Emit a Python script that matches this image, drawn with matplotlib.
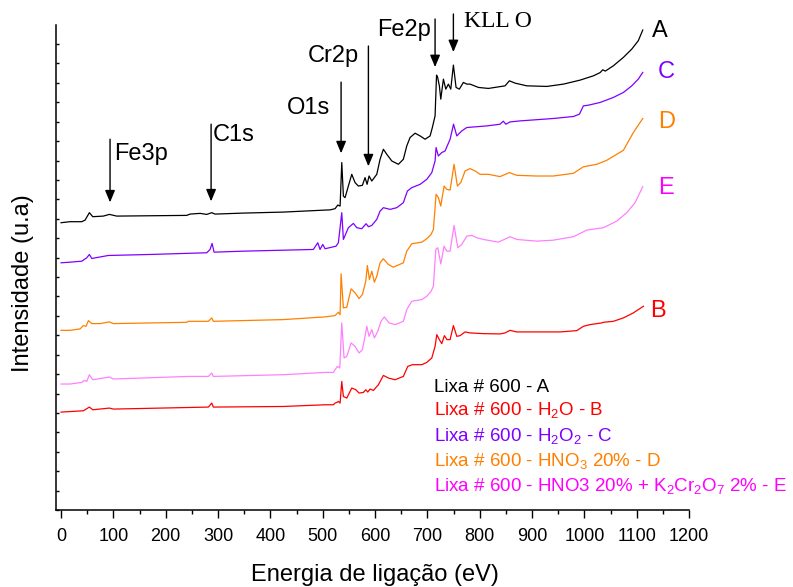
import matplotlib
matplotlib.use("Agg")
import matplotlib.pyplot as plt
from matplotlib.ticker import MultipleLocator

plt.rcParams["font.family"] = ["Liberation Sans", "DejaVu Sans"]
plt.rcParams["mathtext.fontset"] = "custom"
plt.rcParams["mathtext.rm"] = "Liberation Sans"
plt.rcParams["mathtext.default"] = "regular"

# XPS survey spectra: (binding energy eV, intensity a.u.)
spectrum_a = [
    (0, 286.7), (17.2, 287.7), (39.6, 287.7), (45.9, 289.3), (54.1, 296.7),
    (60.6, 292.7), (80.8, 293.3), (92.3, 295), (106.4, 293.3), (240.2, 294),
    (246.5, 295.3), (265.6, 296), (278.4, 295), (288.0, 296.7), (294.3, 295.3),
    (348.4, 296.3), (424.8, 297.3), (504.5, 299.3), (514.1, 299.5), (523.6, 300.7),
    (528.8, 304.3), (533.2, 303.3), (536.4, 346.7), (539.5, 313.3), (542.7, 311.7),
    (549.0, 323.3), (555.5, 335), (561.8, 326.7), (568.1, 323.3), (575.8, 324),
    (580.9, 331.7), (584.8, 325), (588.6, 333.3), (593.8, 328.3), (603.3, 335),
    (609.6, 350), (615.9, 360), (622.4, 355), (632.0, 348.3), (644.6, 345),
    (654.1, 350), (660.6, 363.3), (666.9, 371.7), (676.5, 376), (686.1, 373.3),
    (695.6, 370), (705.2, 373.3), (709.5, 381.7), (714.7, 393.3), (717.5, 434),
    (719.5, 432), (722.9, 423.3), (725.6, 410), (730.6, 430), (735.2, 420),
    (740.1, 425), (744.7, 420), (749.7, 444), (754.8, 421.7), (761.1, 420),
    (768.8, 426.7), (775.3, 425), (781.6, 425), (797.5, 421.7), (816.6, 420.7),
    (848.5, 423.3), (856.7, 428.3), (867.6, 426), (889.9, 423.3), (928.2, 422.7),
    (959.9, 425), (991.8, 429), (1017.3, 433.3), (1030.0, 436.5), (1035.2, 439.3),
    (1040.0, 438), (1055.4, 443.3), (1074.6, 451.7), (1090.6, 460), (1103.0, 468.3),
    (1111.6, 479),
]

spectrum_b = [
    (0, 97.7), (42.6, 99), (54.1, 102.7), (60.6, 100), (92.3, 101.7),
    (99.9, 100.7), (281.5, 102.7), (288.0, 106.7), (291.0, 102.7), (424.8, 103.3),
    (504.5, 105), (520.4, 105), (523.6, 106.7), (526.9, 107.3), (529.9, 108.3),
    (533.2, 106.7), (536.4, 128.3), (539.5, 113.3), (546.0, 111.7), (555.5, 121.7),
    (563.2, 120), (569.5, 116.7), (577.7, 117.3), (582.3, 120), (586.1, 117.7),
    (590.5, 120.7), (596.8, 119.3), (606.4, 125), (615.9, 134.3), (625.5, 131.7),
    (638.3, 130), (654.1, 133.3), (662.5, 143.3), (671.3, 145), (689.3, 145),
    (698.9, 147.3), (708.4, 151.7), (714.7, 163.3), (718.0, 175), (722.9, 170),
    (727.5, 166), (732.5, 174), (737.6, 170), (743.4, 170), (749.7, 184),
    (756.2, 173.3), (762.5, 174), (772.0, 177.7), (781.6, 176.7), (807.0, 176),
    (838.9, 175.7), (848.5, 176.7), (858.0, 179.3), (870.8, 177.7), (915.4, 177.7),
    (953.6, 177.7), (985.5, 179), (998.1, 183.3), (1010.9, 185), (1033.3, 186.7),
    (1036.3, 187.3), (1055.4, 188.3), (1074.6, 191.7), (1093.6, 196.7), (1112.8, 203.3),
]

spectrum_c = [
    (0, 246.7), (17.2, 247.3), (39.6, 248.3), (49.1, 251.7), (54.1, 255),
    (58.7, 251), (90.4, 254), (170.1, 255), (278.4, 256.7), (284.7, 260),
    (288.6, 266), (292.4, 257.3), (348.4, 258.3), (482.1, 260), (490.6, 266.7),
    (494.9, 260), (500.1, 265), (504.5, 260.7), (525.5, 263.3), (529.9, 266.7),
    (536.4, 296.7), (539.5, 270), (549.0, 281.7), (558.6, 286), (565.1, 281.7),
    (574.6, 280.7), (582.9, 285.7), (587.3, 282.7), (593.8, 284), (603.3, 290),
    (609.6, 298.3), (615.9, 301.7), (628.7, 300), (641.5, 301.7), (654.1, 306.7),
    (661.8, 318.3), (670.2, 321.7), (686.1, 325), (698.9, 330), (708.4, 336.7),
    (714.7, 348.3), (716.6, 361.7), (721.0, 353.3), (727.5, 356.7), (733.8, 358.3),
    (743.4, 370), (750.0, 385), (756.2, 373.3), (765.7, 378.3), (775.3, 381.7),
    (813.5, 383.3), (838.9, 385), (845.0, 388), (850.0, 385), (858.0, 387.3),
    (877.1, 388.3), (940.8, 390.7), (979.0, 392.7), (990.5, 395), (998.1, 403.3),
    (1007.7, 404), (1030.0, 406.7), (1055.4, 411.7), (1074.6, 416.7), (1090.6, 423.3),
    (1103.0, 430), (1111.6, 436.7),
]

spectrum_d = [
    (0, 179.3), (17.2, 179.3), (36.3, 180.7), (42.6, 184), (47.8, 183.3),
    (52.2, 189), (58.7, 186), (74.5, 186), (92.3, 187.7), (99.9, 186),
    (240.2, 187.3), (243.3, 188.3), (281.5, 188.3), (288.0, 191.7), (291.0, 188.3),
    (424.8, 190), (504.5, 192.7), (523.6, 194), (529.9, 197.3), (533.2, 195),
    (535.1, 235.7), (539.5, 201.7), (546.0, 202.3), (554.2, 220.7), (561.8, 216.7),
    (569.5, 211), (575.8, 215), (582.3, 228.3), (585.3, 244), (589.2, 230),
    (593.8, 238.3), (598.7, 227.3), (603.3, 233.3), (609.6, 246.7), (615.9, 250.7),
    (625.5, 245), (635.0, 242.3), (654.1, 246.7), (660.6, 258.3), (670.2, 265.7),
    (689.3, 267.3), (698.9, 270.7), (707.1, 275), (711.5, 280), (716.6, 315),
    (721.0, 311.7), (725.6, 303.3), (731.9, 323.3), (737.1, 320), (743.4, 319.3),
    (751.0, 345), (757.3, 323.3), (763.8, 326.7), (772.0, 338.3), (781.6, 340.7),
    (791.2, 338.3), (800.7, 335), (816.6, 335), (838.9, 332.7), (856.7, 336.7),
    (870.8, 334), (909.1, 333.3), (940.8, 333.3), (979.0, 336), (998.1, 342.5),
    (1023.7, 345), (1042.8, 349), (1061.9, 355), (1074.6, 359), (1093.6, 376.7),
    (1111.6, 390.7),
]

spectrum_e = [
    (0, 125.7), (17.2, 125.7), (39.6, 127.3), (44.0, 129.3), (49.1, 128.3),
    (54.1, 135), (60.6, 130), (92.3, 132.7), (99.9, 130.7), (243.3, 133.3),
    (281.5, 133.3), (288.0, 136.7), (291.0, 133.3), (424.8, 135), (504.5, 137.3),
    (520.4, 137.3), (523.6, 140), (528.0, 143.3), (532.6, 141.7), (536.4, 186.7),
    (540.8, 151.7), (546.0, 153.3), (554.2, 166.7), (561.8, 163.3), (569.5, 156.7),
    (575.8, 160), (580.9, 173.3), (584.2, 183.3), (588.6, 173.3), (593.8, 180),
    (598.7, 171.7), (605.2, 178.3), (611.5, 188.3), (617.8, 192.7), (626.8, 186.7),
    (638.3, 185), (654.1, 188.3), (660.6, 200), (670.2, 208.3), (689.3, 210),
    (698.9, 213.3), (707.1, 218.3), (711.5, 223.3), (716.1, 260), (719.9, 261.7),
    (725.6, 245.5), (731.9, 263.3), (737.1, 258.3), (743.4, 258.3), (751.0, 284),
    (758.1, 261.7), (765.7, 265), (775.3, 273.3), (784.8, 274), (794.4, 271.7),
    (807.0, 270), (835.7, 267.3), (858.0, 272.7), (870.8, 270), (909.1, 268.3),
    (940.8, 269.3), (979.0, 272.7), (1004.6, 279.3), (1036.3, 281.7), (1061.9, 288.3),
    (1081.0, 296.7), (1096.9, 306.7), (1111.6, 322.7),
]

curve_colors = {"A": "#000000", "B": "#ff0000", "C": "#8000ff", "D": "#ff8000", "E": "#ff80ff"}
label_colors = {"A": "#000000", "B": "#ff0000", "C": "#8000ff", "D": "#ff8000", "E": "#ff00ff"}

# letter next to the end of each curve (x, y)
end_labels = {"A": (1129, 478), "C": (1141, 437), "D": (1141, 387), "E": (1141, 321), "B": (1126, 199)}

legend_lines = [
    ("Lixa # 600 - A", "A"),
    ("Lixa # 600 - H$_2$O - B", "B"),
    ("Lixa # 600 - H$_2$O$_2$ - C", "C"),
    ("Lixa # 600 - HNO$_3$ 20% - D", "D"),
    ("Lixa # 600 - HNO3 20% + K$_2$Cr$_2$O$_7$ 2% - E", "E"),
]
legend_baselines = [117.7, 95, 69, 44, 19]

# peak markers: label, arrow x, arrow top, arrow tip, text x, text baseline
peaks = [
    ("Fe3p", 93.6, 370, 307, 101.3, 349),
    ("C1s", 286.7, 385, 308, 290.5, 368),
    ("O1s", 535.1, 427, 356, 431.9, 395),
    ("Cr2p", 587.3, 463, 343, 472, 447),
    ("Fe2p", 714.7, 490, 442, 603.3, 473),
]
kll_marker = ("KLL O", 749.7, 495, 457, 770.7, 482)

spectra = {"A": spectrum_a, "C": spectrum_c, "D": spectrum_d, "E": spectrum_e, "B": spectrum_b}

fig = plt.figure(figsize=(7.93, 5.87), dpi=100)
ax = fig.add_axes([0.0704, 0.1312, 0.7985, 0.8262])

for key, pts in spectra.items():
    ev, inten = zip(*pts)
    ax.plot(ev, inten, color=curve_colors[key], lw=0.9)

for key, (x, y) in end_labels.items():
    ax.text(x, y, key, color=label_colors[key], fontsize=17, ha="left", va="center")

for (txt, key), yb in zip(legend_lines, legend_baselines):
    ax.text(712, yb, txt, color=label_colors[key], fontsize=13.5, ha="left", va="baseline")

arrow = dict(arrowstyle="-|>,head_length=0.6,head_width=0.25", color="black",
             lw=1, mutation_scale=12, shrinkA=0, shrinkB=0)
for name, xa, top, tip, xt, yt in peaks:
    ax.annotate("", xy=(xa, tip), xytext=(xa, top), arrowprops=arrow, annotation_clip=False)
    ax.text(xt, yt, name, fontsize=17, ha="left", va="baseline", clip_on=False)
name, xa, top, tip, xt, yt = kll_marker
ax.annotate("", xy=(xa, tip), xytext=(xa, top), arrowprops=arrow, annotation_clip=False)
ax.text(xt, yt, name, fontsize=17, ha="left", va="baseline", family="Liberation Serif", clip_on=False)

ax.set_xlim(-10, 1200)
ax.set_ylim(0, 484)
ax.spines["top"].set_visible(False)
ax.spines["right"].set_visible(False)
ax.spines["left"].set_linewidth(1.1)
ax.spines["bottom"].set_linewidth(1.1)
ax.xaxis.set_major_locator(MultipleLocator(100))
ax.xaxis.set_minor_locator(MultipleLocator(50))
ax.yaxis.set_major_locator(MultipleLocator(19.375))
ax.tick_params(axis="x", which="major", direction="out", length=6, width=1, labelsize=13, pad=7)
ax.tick_params(axis="x", which="minor", direction="out", length=3, width=1)
ax.tick_params(axis="y", which="major", direction="in", length=2.5, width=1, labelleft=False)

fig.text(0.473, 0.0204, "Energia de ligação (eV)", fontsize=17, ha="center", va="center")
fig.text(0.029, 0.518, "Intensidade (u.a)", fontsize=17, ha="center", va="center", rotation=90)

fig.savefig("out.png", dpi=100)
